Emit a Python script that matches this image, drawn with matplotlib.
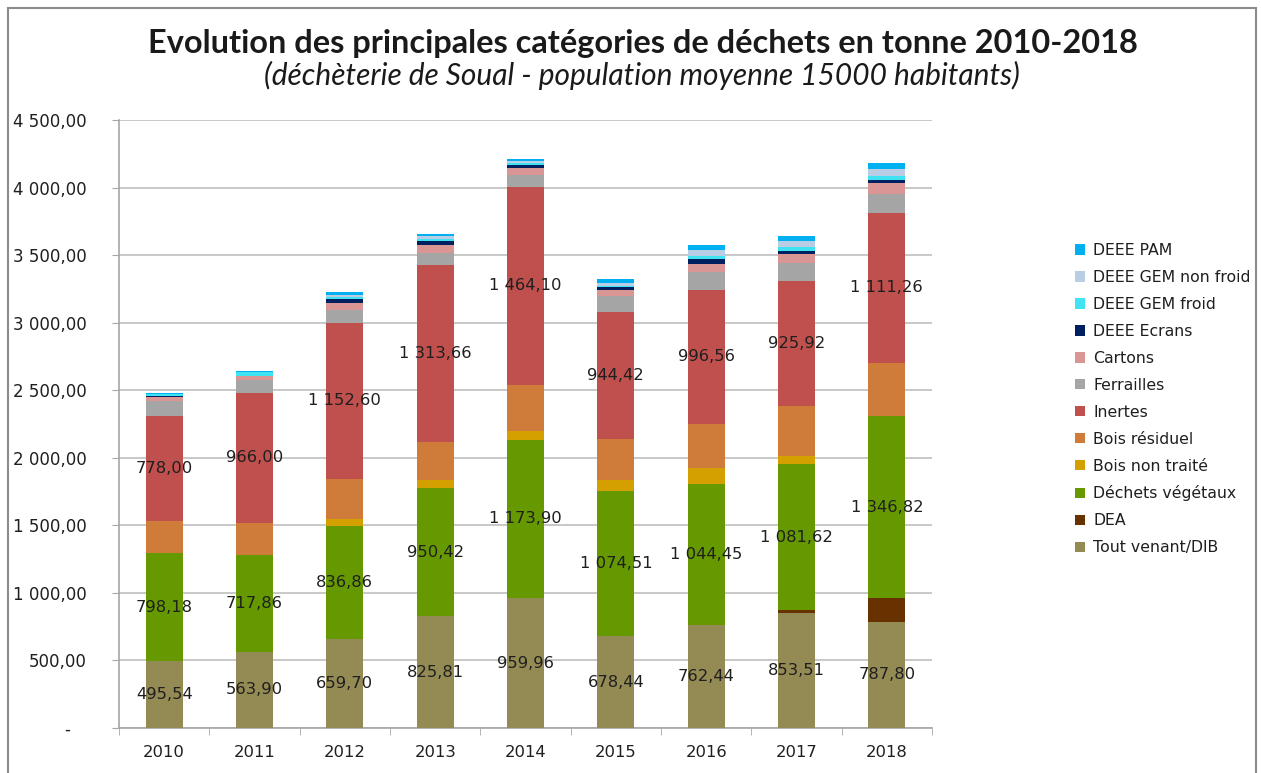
import matplotlib
matplotlib.use("Agg")
import matplotlib.pyplot as plt
import numpy as np
from matplotlib.ticker import FixedLocator, FuncFormatter

years = ["2010", "2011", "2012", "2013", "2014", "2015", "2016", "2017", "2018"]

# tonnes per category, bottom to top of the stack
tout_venant = [495.54, 563.90, 659.70, 825.81, 959.96, 678.44, 762.44, 853.51, 787.80]
dea = [0, 0, 0, 0, 0, 0, 0, 18, 172]
vegetaux = [798.18, 717.86, 836.86, 950.42, 1173.90, 1074.51, 1044.45, 1081.62, 1346.82]
bois_non_traite = [0, 0, 52, 62, 68, 85, 118, 57, 0]
bois_residuel = [238, 235, 296, 276, 340, 299, 324, 370, 395]
inertes = [778.00, 966.00, 1152.60, 1313.66, 1464.10, 944.42, 996.56, 925.92, 1111.26]
ferrailles = [113, 90, 100, 90, 88, 114, 128, 136, 143]
cartons = [27, 34, 48, 60, 54, 44, 62, 69, 81]
deee_ecrans = [11, 0, 32, 30, 20, 25, 37, 22, 22]
deee_gem_froid = [12, 28, 10, 14, 12, 10, 18, 27, 25]
deee_gem_non_froid = [0, 0, 20, 18, 16, 22, 44, 42, 57]
deee_pam = [10, 8, 20, 14, 16, 25, 37, 37, 42]

series = [
    ("Tout venant/DIB", tout_venant, "#948A54"),
    ("DEA", dea, "#673200"),
    ("Déchets végétaux", vegetaux, "#669900"),
    ("Bois non traité", bois_non_traite, "#D4A000"),
    ("Bois résiduel", bois_residuel, "#CF7B3A"),
    ("Inertes", inertes, "#C0504D"),
    ("Ferrailles", ferrailles, "#A5A5A5"),
    ("Cartons", cartons, "#D99694"),
    ("DEEE Ecrans", deee_ecrans, "#002060"),
    ("DEEE GEM froid", deee_gem_froid, "#3FE3F2"),
    ("DEEE GEM non froid", deee_gem_non_froid, "#B9CDE5"),
    ("DEEE PAM", deee_pam, "#00B0F0"),
]
labelled = {"Tout venant/DIB", "Déchets végétaux", "Inertes"}


def fr_number(v):
    s = f"{v:,.2f}"
    return s.replace(",", " ").replace(".", ",")


fig = plt.figure(figsize=(12.61, 7.73), dpi=100)
ax = fig.add_axes([119 / 1261, 1 - 728 / 773, (932 - 119) / 1261, (728 - 120) / 773])

x = np.arange(len(years))
bottom = np.zeros(len(years))
handles = []
for name, vals, color in series:
    vals = np.array(vals, dtype=float)
    bars = ax.bar(x, vals, width=0.41, bottom=bottom, color=color, label=name,
                  linewidth=0, zorder=3)
    handles.append(bars)
    if name in labelled:
        for xi, b, v in zip(x, bottom, vals):
            ax.text(xi, b + v / 2, fr_number(v), ha="center", va="center",
                    fontsize=11.8, color="#1f1f1f", zorder=4)
    bottom += vals

ax.set_xlim(-0.5, len(years) - 0.5)
ax.set_ylim(0, 4500)
ax.yaxis.set_major_locator(FixedLocator(np.arange(0, 4501, 500)))
ax.yaxis.set_major_formatter(FuncFormatter(lambda v, p: "-   " if v == 0 else fr_number(v)))
ax.grid(axis="y", color="#BFBFBF", linewidth=1.2, zorder=0)
ax.set_axisbelow(True)

ax.set_xticks(x)
ax.set_xticklabels(years)
ax.set_xticks(np.arange(-0.5, len(years)), minor=True)
ax.tick_params(axis="x", which="major", length=0, pad=12, labelsize=11.8, labelcolor="#1f1f1f")
ax.tick_params(axis="x", which="minor", length=5, color="#A6A6A6", direction="out")
ax.tick_params(axis="y", length=5, color="#A6A6A6", pad=18, labelsize=12, labelcolor="#1f1f1f")

for side in ("top", "right"):
    ax.spines[side].set_visible(False)
for side in ("left", "bottom"):
    ax.spines[side].set_color("#A6A6A6")
    ax.spines[side].set_linewidth(1.2)

fig.text(0.5 * (148 + 1137) / 1261, 1 - 43 / 773,
         "Evolution des principales catégories de déchets en tonne 2010-2018",
         ha="center", va="center", fontsize=23.4, fontweight="bold",
         family=["Lato", "DejaVu Sans"], color="#1a1a1a")
fig.text(0.5 * (258 + 1025) / 1261, 1 - 75 / 773,
         "(déchèterie de Soual - population moyenne 15000 habitants)",
         ha="center", va="center", fontsize=21.5, style="italic",
         family=["Lato", "DejaVu Sans"], color="#1a1a1a")

leg = fig.legend(handles[::-1], [s[0] for s in series][::-1],
                 loc="upper left", bbox_to_anchor=(1061 / 1261, 1 - 229 / 773),
                 frameon=False, fontsize=11.3, handlelength=0.65, handleheight=0.65,
                 handletextpad=0.5, labelspacing=0.76)
for t in leg.get_texts():
    t.set_color("#1f1f1f")

# chart frame
fig.add_artist(plt.Line2D([8 / 1261, 8 / 1261], [0, 1 - 8 / 773], transform=fig.transFigure,
                          color="#8C8C8C", linewidth=1.5))
fig.add_artist(plt.Line2D([8 / 1261, 1256 / 1261], [1 - 8 / 773, 1 - 8 / 773],
                          transform=fig.transFigure, color="#8C8C8C", linewidth=1.5))
fig.add_artist(plt.Line2D([1256 / 1261, 1256 / 1261], [0, 1 - 8 / 773],
                          transform=fig.transFigure, color="#8C8C8C", linewidth=1.5))

fig.savefig("out.png", dpi=100)
